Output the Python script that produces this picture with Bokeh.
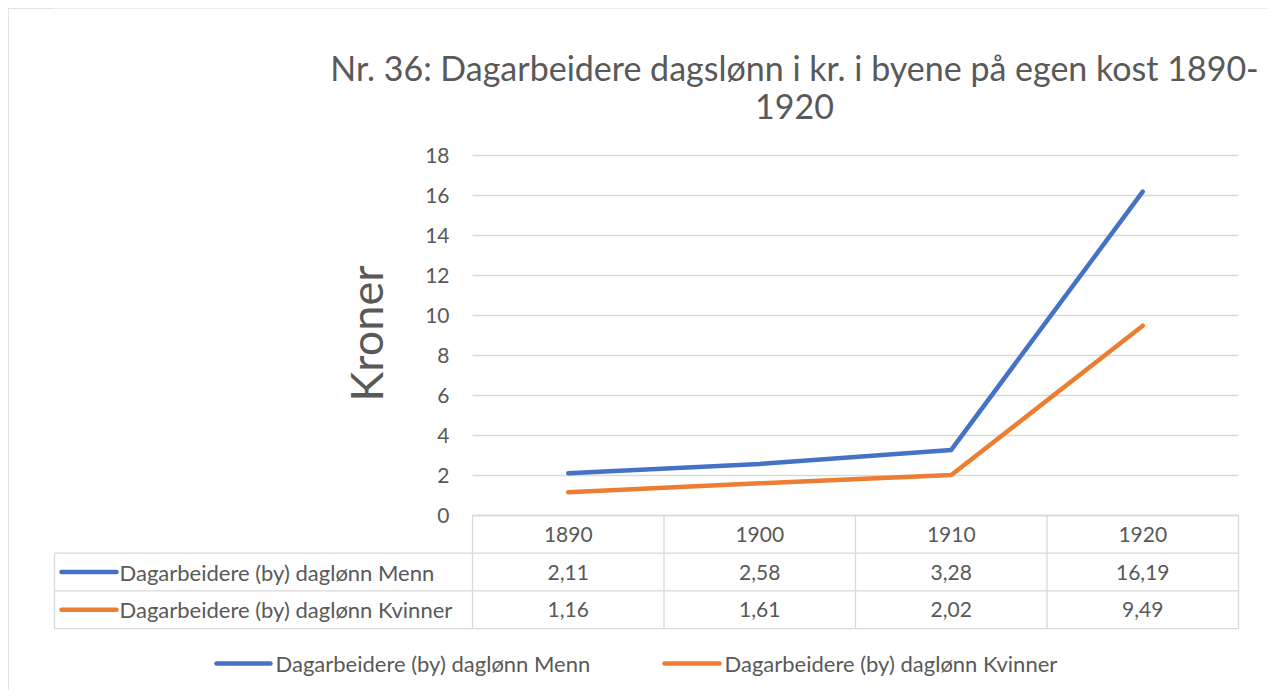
from bokeh.plotting import figure
from bokeh.models import Range1d, FixedTicker, LinearAxis
from bokeh.core.properties import value
from bokeh.embed import file_html
from bokeh.resources import INLINE
import math

# ---------------- data ----------------
years = ["1890", "1900", "1910", "1920"]
menn = [2.11, 2.58, 3.28, 16.19]
kvinner = [1.16, 1.61, 2.02, 9.49]
series_names = ["Dagarbeidere (by) daglønn  Menn", "Dagarbeidere (by) daglønn  Kvinner"]
y_ticks = [0, 2, 4, 6, 8, 10, 12, 14, 16, 18]
title_lines = ["Nr. 36: Dagarbeidere dagslønn i kr. i byene på egen kost 1890-", "1920"]
y_label = "Kroner"

BLUE = "#4472C4"
ORANGE = "#ED7D31"
TXT = "#595959"
GRID = "#d9d9d9"
FONT = "Lato"
FS = "21px"      # numbers / ticks
FS_L = "22px"    # row labels / legend

def fmt(v):
    return f"{v:.2f}".replace(".", ",")

# ---------------- layout constants (image pixels) ----------------
FIG_X, FIG_Y = 8, 8
W, H = 1259, 682
FRAME_L = 52                 # image x of the frame's left edge
X0PX = 472                   # image x of the plot area's left edge
COL = 191.5                  # px per year column
Y0PX = 515                   # image y of value 0
PX_Y = 20.0                  # px per krone
ROW = 37.7                   # table row height

def ux(px):                  # image x -> column units
    return (px - X0PX) / COL

def uy(py):                  # image y -> kroner units
    return (Y0PX - py) / PX_Y

def ur(py):                  # image y -> table row units
    return (py - Y0PX) / ROW

p = figure(width=W, height=H,
           x_range=Range1d(ux(FRAME_L), ux(FIG_X + W)),
           y_range=Range1d(uy(FIG_Y + H), uy(FIG_Y)),
           x_axis_type=None, y_axis_type=None,
           output_backend="svg", toolbar_location=None,
           min_border_left=FRAME_L - FIG_X, min_border_right=0,
           min_border_top=0, min_border_bottom=0,
           margin=(FIG_Y, 0, 0, FIG_X))
p.extra_y_ranges = {"table": Range1d(ur(FIG_Y + H), ur(FIG_Y))}
p.outline_line_color = None
p.background_fill_color = "white"
p.border_fill_color = "white"
p.grid.visible = False
p.styles = {"outline": "1px solid #d9d9d9", "outline-offset": "-1px"}

nY = len(years)
xc = [i + 0.5 for i in range(nY)]     # centres of the year columns

# y axis (real axis, drawn at the plot area's left edge)
ax = LinearAxis(ticker=FixedTicker(ticks=y_ticks), fixed_location=ux(463), bounds=(0, 18))
ax.axis_line_color = None
ax.major_tick_line_color = None
ax.minor_tick_line_color = None
ax.major_tick_out = 0
ax.major_tick_in = 0
ax.major_label_text_font = FONT
ax.major_label_text_font_size = FS
ax.major_label_text_color = TXT
ax.major_label_standoff = 14
p.add_layout(ax, "left")

# horizontal grid lines
p.segment(x0=[0] * len(y_ticks), y0=y_ticks, x1=[nY] * len(y_ticks), y1=y_ticks,
          line_color=GRID, line_width=1.3)

# series lines
p.line(xc, menn, line_color=BLUE, line_width=4.5, line_cap="round", line_join="round")
p.line(xc, kvinner, line_color=ORANGE, line_width=4.5, line_cap="round", line_join="round")

# title and y label
p.text(x=[ux(794)], y=[uy(67)], text=[title_lines[0]], text_font=value(FONT),
       text_font_size="34px", text_color=TXT, text_align="center", text_baseline="alphabetic")
p.text(x=[ux(794)], y=[uy(106)], text=[title_lines[1]], text_font=value(FONT),
       text_font_size="34px", text_color=TXT, text_align="center", text_baseline="alphabetic")
p.text(x=[ux(365)], y=[uy(333)], text=[y_label], angle=math.pi / 2, text_font=value(FONT),
       text_font_size="45px", text_color=TXT, text_align="center", text_baseline="middle")

# ---------------- data table ----------------
left = ux(54)
nR = 3  # header + two series rows
T = dict(y_range_name="table")
# horizontal lines
p.segment(x0=[0] + [left] * nR, y0=list(range(nR + 1)), x1=[nY] * (nR + 1), y1=list(range(nR + 1)),
          line_color=GRID, line_width=1.3, **T)
# vertical lines
p.segment(x0=[left], y0=[1], x1=[left], y1=[nR], line_color=GRID, line_width=1.3, **T)
p.segment(x0=list(range(nY + 1)), y0=[0] * (nY + 1), x1=list(range(nY + 1)), y1=[nR] * (nY + 1),
          line_color=GRID, line_width=1.3, **T)
# header
p.text(x=xc, y=[0.5] * nY, text=years, text_font=value(FONT), text_font_size=FS,
       text_color=TXT, text_align="center", text_baseline="middle", **T)

colors = [BLUE, ORANGE]
for r, (vals, name, c) in enumerate(zip([menn, kvinner], series_names, colors)):
    yc = r + 1.5
    p.segment(x0=[ux(61)], y0=[yc], x1=[ux(116)], y1=[yc], line_color=c, line_width=4.5,
              line_cap="round", **T)
    p.text(x=[ux(119)], y=[yc], text=[name], text_font=value(FONT), text_font_size=FS_L,
           text_color=TXT, text_align="left", text_baseline="middle", **T)
    p.text(x=xc, y=[yc] * nY, text=[fmt(v) for v in vals], text_font=value(FONT),
           text_font_size=FS, text_color=TXT, text_align="center", text_baseline="middle", **T)

# ---------------- legend ----------------
ly = ur(663)
leg = [(216, 270, 275), (664, 719, 724)]
for (a, b, t), name, c in zip(leg, series_names, colors):
    p.segment(x0=[ux(a)], y0=[ly], x1=[ux(b)], y1=[ly], line_color=c, line_width=4.5,
              line_cap="round", **T)
    p.text(x=[ux(t)], y=[ly], text=[name], text_font=value(FONT), text_font_size=FS_L,
           text_color=TXT, text_align="left", text_baseline="middle", **T)

open("out.html", "w").write(file_html(p, INLINE))
